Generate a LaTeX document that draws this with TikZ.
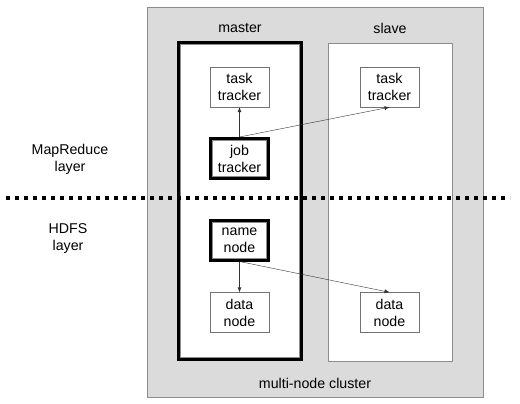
\documentclass[tikz,border=0pt]{standalone}
\usepackage{fontspec}
\setmainfont{Liberation Sans}
\usetikzlibrary{arrows.meta}
\tikzset{>={Latex[length=5pt, width=4pt]}}

\begin{document}
\begin{tikzpicture}[x=1pt, y=-1pt,
    every node/.style={font=\fontsize{14.2}{17}\selectfont, align=center},
    unit/.style={draw=black!55, fill=white, minimum width=59pt, minimum height=40pt, inner sep=0pt},
    main unit/.style={draw=black, line width=3pt, fill=white, minimum width=58pt, minimum height=40pt, inner sep=0pt},
    link/.style={->, black!80, thin}]
    \useasboundingbox (0,0) rectangle (520,404);

    % Cluster
    \draw[fill=black!14, draw=black!45] (147,7) rectangle (483,397);
    \node (cl) at (315,383) {multi-node cluster};

    % Master
    \draw[line width=3pt, fill=white] (178.5,42.5) rectangle (301.5,359.5);
    \draw[black!45] (180.5,44.5) rectangle (299.5,357.5);
    \node (ma) at (240,28) {master};

    % Slave
    \draw[fill=white, draw=black!45] (328,43) rectangle (452,361);
    \node (sl) at (390,28) {slave};

    % Layers
    \node (mr) at (70,159) {MapReduce\\layer};
    \node (hd) at (68,239) {HDFS\\layer};

    % Trackers
    \node[unit] (tt1) at (239.5,87) {task\\tracker};
    \node[unit] (tt2) at (389.5,87) {task\\tracker};
    \node[main unit] (jt) at (239.5,158.5) {job\\tracker};
    \draw[black!45] ([xshift=3.5pt, yshift=-3.5pt]jt.north west) rectangle ([xshift=-3.5pt, yshift=3.5pt]jt.south east);

    % HDFS nodes
    \node[main unit] (nn) at (239.5,240) {name\\node};
    \draw[black!45] ([xshift=3.5pt, yshift=-3.5pt]nn.north west) rectangle ([xshift=-3.5pt, yshift=3.5pt]nn.south east);
    \node[unit] (dn1) at (239.5,312.5) {data\\node};
    \node[unit] (dn2) at (389.5,312.5) {data\\node};

    % Lines
    \draw[link] (jt.north) -- (tt1.south);
    \draw[link] (jt.north) -- (tt2.south);
    \draw[link] (nn.south) -- (dn1.north);
    \draw[link] (nn.south) -- (dn2.north);

    % Layer border
    \draw[line width=4pt, dash pattern=on 4pt off 5pt] (6,198) -- (510,198);
\end{tikzpicture}
\end{document}
